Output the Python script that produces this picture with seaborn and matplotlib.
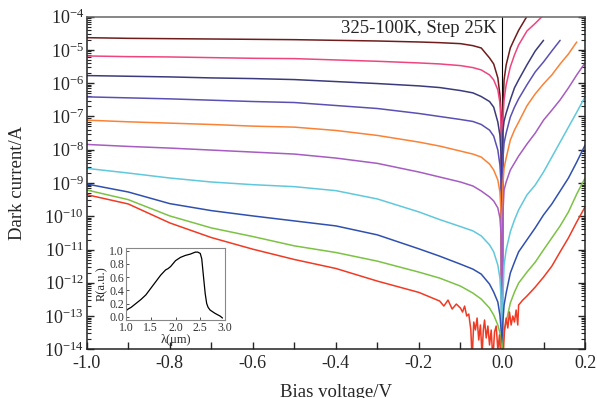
import numpy as np
import pandas as pd
import matplotlib
matplotlib.use("Agg")
import matplotlib.pyplot as plt
import seaborn as sns
from matplotlib.ticker import LogLocator, LogFormatterMathtext, MultipleLocator, NullFormatter, FormatStrFormatter

# bias points shared by the nine smooth curves (V)
v_rev = [-1.0, -0.9, -0.8, -0.7, -0.6, -0.5, -0.4, -0.3, -0.2, -0.15, -0.1,
         -0.07, -0.05, -0.03, -0.02, -0.01, -0.005, -0.002, 0.0]
v_fwd = [0.002, 0.005, 0.01, 0.02, 0.03, 0.04, 0.06, 0.08, 0.1, 0.12, 0.14, 0.16, 0.18, 0.2]
nan = np.nan

# log10 of dark current (A)
log_325 = [-4.63, -4.65, -4.66, -4.67, -4.68, -4.69, -4.71, -4.73, -4.76, -4.78, -4.81, -4.87, -4.94,
           -5.24, -5.42, -5.84, -6.35, -6.96, -15,
           -6.81, -5.90, -5.45, -4.94, -4.67, -4.41, -3.99, nan, nan, nan, nan, nan, nan, nan]
log_300 = [-5.18, -5.20, -5.21, -5.23, -5.25, -5.26, -5.30, -5.34, -5.39, -5.42, -5.47, -5.53, -5.60,
           -5.75, -5.90, -6.20, -6.59, -7.26, -15,
           -7.11, -6.50, -6.05, -5.51, -5.15, -4.85, -4.43, -4.20, -3.95, nan, nan, nan, nan, nan]
log_275 = [-5.77, -5.79, -5.81, -5.84, -5.86, -5.89, -5.95, -6.01, -6.08, -6.13, -6.22, -6.29, -6.40,
           -6.55, -6.72, -7.17, -7.56, -8.16, -15,
           -7.47, -7.14, -6.90, -6.50, -6.14, -5.90, -5.45, -5.03, -4.71, nan, nan, nan, nan, nan]
log_250 = [-6.41, -6.44, -6.47, -6.51, -6.55, -6.58, -6.67, -6.76, -6.91, -7.00, -7.09, -7.15, -7.24,
           -7.41, -7.59, -8.01, -8.46, -9.06, -15,
           -8.31, -7.80, -7.50, -7.02, -6.72, -6.47, -6.05, -5.66, -5.36, -5.03, -4.71, nan, nan, nan]
log_225 = [-7.11, -7.16, -7.20, -7.24, -7.29, -7.32, -7.42, -7.57, -7.77, -7.89, -8.04, -8.13, -8.22,
           -8.43, -8.61, -8.91, -9.27, -9.96, -15,
           -9.06, -8.55, -8.25, -7.71, -7.41, -7.17, -6.68, -6.32, -6.02, -5.75, -5.42, -5.12, -4.76, nan]
log_200 = [-7.84, -7.90, -7.95, -8.01, -8.07, -8.13, -8.25, -8.41, -8.67, -8.82, -8.97, -9.09, -9.24,
           -9.42, -9.54, -9.75, -10.05, -10.56, -15,
           -9.96, -9.21, -8.97, -8.61, -8.40, -8.19, -7.83, -7.50, -7.11, -6.81, -6.50, -6.14, -5.75, -5.39]
log_175 = [-8.56, -8.70, -8.85, -8.97, -9.05, -9.11, -9.23, -9.48, -9.87, -10.10, -10.31, -10.44, -10.59,
           -10.86, -11.07, -11.47, -11.86, -12.52, -15,
           -12.52, -11.47, -11.01, -10.47, -10.11, -9.81, -9.36, -9.06, -8.67, -8.22, -7.77, -7.32, -6.87, -6.41]
log_150 = [-9.03, -9.27, -9.62, -9.83, -9.99, -10.14, -10.29, -10.56, -10.98, -11.20, -11.44, -11.59, -11.74,
           -12.04, -12.28, -12.58, -12.97, -13.42, -15,
           -13.21, -12.67, -12.31, -11.71, -11.38, -11.07, -10.71, -10.35, -9.96, -9.63, -9.24, -8.85, -8.37, -7.86]
log_125 = [-9.21, -9.50, -9.99, -10.35, -10.61, -10.89, -11.09, -11.35, -11.68, -11.86, -12.10, -12.31, -12.49,
           -12.76, -12.97, -13.27, -13.51, -13.87, -15,
           -13.87, -13.48, -13.18, -12.61, -12.28, -12.01, -11.68, -11.38, -11.01, -10.65, -10.29, -9.87, -9.33, -8.85]

# 100 K curve is noisy near zero bias, so it has its own points
v_100 = [-1.0, -0.9, -0.8, -0.7, -0.6, -0.5, -0.4, -0.3, -0.2, -0.15, -0.14, -0.13, -0.12, -0.11, -0.1,
         -0.095, -0.09, -0.085, -0.08, -0.075, -0.072, -0.068, -0.064, -0.06, -0.056, -0.052, -0.048,
         -0.045, -0.042, -0.038, -0.034, -0.03, -0.026, -0.022, -0.018, -0.014, -0.01, -0.006, -0.003,
         0.0, 0.003, 0.006, 0.01, 0.014, 0.018, 0.022, 0.026, 0.03, 0.034, 0.038, 0.04, 0.05, 0.06,
         0.08, 0.1, 0.12, 0.14, 0.16, 0.18, 0.2]
log_100 = [-9.35, -9.63, -10.20, -10.64, -10.99, -11.30, -11.57, -11.95, -12.29, -12.55, -12.70, -12.52,
           -12.79, -12.64, -12.76, -12.88, -12.70, -13.00, -12.94, -13.42, -14.32, -13.18, -13.42, -13.06,
           -13.72, -13.27, -14.17, -13.42, -13.12, -13.66, -13.30, -13.87, -13.42, -14.32, -13.48, -13.30,
           -14.02, -13.57, -14.32, -15.0, -14.17, -13.42, -13.06, -13.36, -12.88, -13.27, -13.00, -13.18,
           -12.82, -13.27, -12.67, -12.52, -12.40, -12.13, -11.83, -11.50, -11.07, -10.65, -10.17, -9.72]

temps = ["325K", "300K", "275K", "250K", "225K", "200K", "175K", "150K", "125K", "100K"]
colors = ["#6e1c1c", "#ee4580", "#3a3a7c", "#5a50b4", "#fa8236", "#a65cc0",
          "#60c8dc", "#3050b0", "#7cc244", "#f03a24"]

# inset: spectral response
lam = [1.0, 1.05, 1.1, 1.2, 1.3, 1.4, 1.5, 1.6, 1.7, 1.8, 1.85, 1.9, 2.0, 2.1, 2.2, 2.3, 2.4,
       2.45, 2.5, 2.53, 2.56, 2.6, 2.63, 2.66, 2.7, 2.8, 2.9, 2.95]
resp = [0.09, 0.12, 0.14, 0.20, 0.26, 0.33, 0.43, 0.53, 0.63, 0.71, 0.73, 0.76, 0.85, 0.90, 0.93,
        0.95, 0.98, 0.98, 0.96, 0.88, 0.65, 0.35, 0.20, 0.14, 0.10, 0.05, 0.01, -0.02]

smooth = [log_325, log_300, log_275, log_250, log_225, log_200, log_175, log_150, log_125]
frames = []
for t, logs in zip(temps[:-1], smooth):
    frames.append(pd.DataFrame({"V": v_rev + v_fwd, "logI": logs, "T": t}))
frames.append(pd.DataFrame({"V": v_100, "logI": log_100, "T": "100K"}))
df = pd.concat(frames).dropna()
df["I"] = 10 ** df["logI"]

sns.set_style("ticks")
plt.rcParams["font.family"] = ["Liberation Serif", "DejaVu Serif"]
plt.rcParams["mathtext.fontset"] = "custom"
plt.rcParams["mathtext.rm"] = "Liberation Serif"
plt.rcParams["axes.unicode_minus"] = False

fig = plt.figure(figsize=(5.97, 3.98), dpi=100)
ax = fig.add_axes([0.1452, 0.1224, 0.8348, 0.8356])

ax.axvline(0, color="black", lw=0.8, zorder=1)
sns.lineplot(data=df, x="V", y="I", hue="T", palette=dict(zip(temps, colors)),
             estimator=None, sort=False, legend=False, lw=1.1, ax=ax)

ax.set_yscale("log")
ax.set_xlim(-1.0, 0.2)
ax.set_ylim(1e-14, 1e-4)
ax.xaxis.set_major_locator(MultipleLocator(0.2))
ax.xaxis.set_minor_locator(MultipleLocator(0.1))
ax.yaxis.set_major_locator(LogLocator(base=10, numticks=20))
ax.yaxis.set_minor_locator(LogLocator(base=10, subs=np.arange(2, 10), numticks=20))
ax.yaxis.set_major_formatter(LogFormatterMathtext())
ax.yaxis.set_minor_formatter(NullFormatter())
ax.tick_params(axis="both", which="both", direction="in", right=True, top=False, labelsize=13)
ax.tick_params(axis="y", which="major", length=5, width=1, pad=2)
ax.tick_params(axis="y", which="minor", length=3, width=0.8)
ax.tick_params(axis="x", which="both", length=5, width=1, pad=4)
for s in ax.spines.values():
    s.set_linewidth(1.1)
    s.set_color("#222222")
ax.spines["top"].set_color("#666666")

ax.set_xlabel("Bias voltage/V", fontsize=13.5)
ax.set_ylabel("Dark current/A", fontsize=13.5)
ax.xaxis.set_label_coords(0.5, -0.105)
ax.yaxis.set_label_coords(-0.122, 0.5)
ax.text(0.823, 0.966, "325-100K, Step 25K", transform=ax.transAxes,
        ha="right", va="center", fontsize=13.5)

# inset
axi = fig.add_axes([126 / 597, 1 - 320 / 398, 99 / 597, 72.5 / 398])
sns.lineplot(x=lam, y=resp, ax=axi, color="black", lw=0.9)
axi.set_xlim(1.0, 3.0)
axi.set_ylim(-0.05, 1.05)
axi.xaxis.set_major_locator(MultipleLocator(0.5))
axi.yaxis.set_major_locator(MultipleLocator(0.2))
axi.xaxis.set_major_formatter(FormatStrFormatter("%.1f"))
axi.yaxis.set_major_formatter(FormatStrFormatter("%.1f"))
axi.tick_params(direction="in", length=2, width=0.6, labelsize=8.5, pad=1.5, colors="#333333")
axi.set_xlabel("λ(μm)", fontsize=9, labelpad=0)
axi.set_ylabel("R(a.u.)", fontsize=9, labelpad=1)
for s in axi.spines.values():
    s.set_linewidth(0.8)
    s.set_color("#888888")

fig.savefig("out.png", dpi=100)
